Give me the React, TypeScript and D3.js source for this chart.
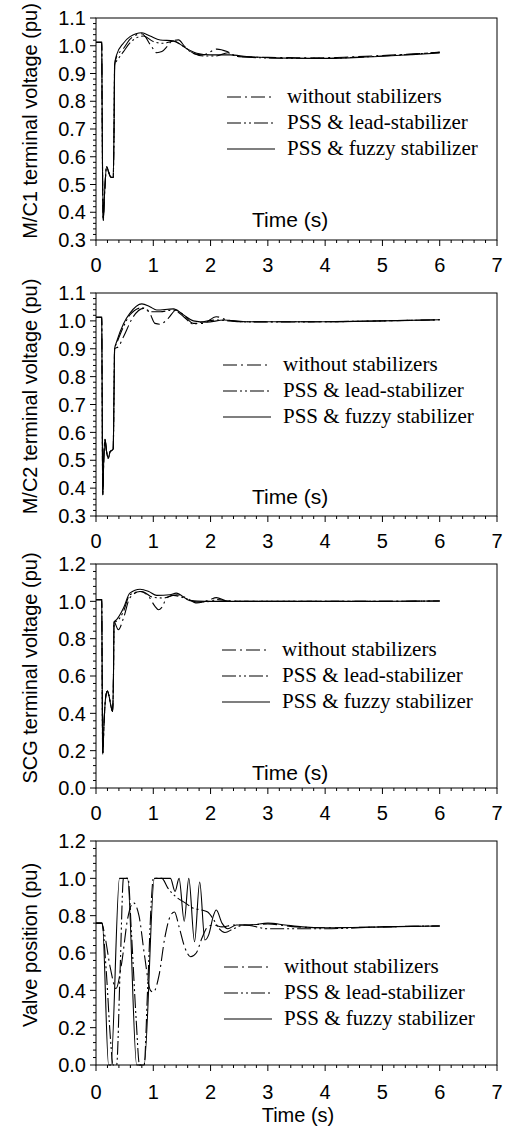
import React from 'react';
import * as d3 from 'd3';

type Pt = [number, number];

const xTickValues = [0, 1, 2, 3, 4, 5, 6, 7];
const voltTicks = [0.3, 0.4, 0.5, 0.6, 0.7, 0.8, 0.9, 1.0, 1.1];
const unitTicks = [0.0, 0.2, 0.4, 0.6, 0.8, 1.0, 1.2];
const legendLabels = ['without stabilizers', 'PSS & lead-stabilizer', 'PSS & fuzzy stabilizer'];

// ---- Panel 1: M/C1 terminal voltage ----
const mc1Common: Pt[] = [
  [0, 1.012], [0.1, 1.012], [0.106, 0.8], [0.125, 0.37], [0.15, 0.47], [0.185, 0.565],
  [0.22, 0.545], [0.255, 0.527], [0.3, 0.525], [0.315, 0.7], [0.325, 0.93],
];
const mc1Without: Pt[] = [
  [0.36, 0.961], [0.48, 0.99], [0.6, 1.025], [0.8, 1.043], [0.97, 0.997], [1.06, 0.975],
  [1.15, 0.979], [1.24, 0.997], [1.32, 1.016], [1.44, 1.021], [1.55, 0.997], [1.69, 0.973],
  [1.87, 0.967], [2.11, 0.988], [2.29, 0.979], [2.46, 0.961], [3.0, 0.958], [3.5, 0.957],
  [4.0, 0.957], [4.5, 0.96], [5.0, 0.965], [5.5, 0.97], [6.0, 0.976],
];
const mc1Lead: Pt[] = [
  [0.39, 0.953], [0.48, 0.979], [0.6, 1.012], [0.83, 1.035], [1.0, 1.015], [1.18, 1.009],
  [1.35, 1.016], [1.53, 0.997], [1.7, 0.973], [1.87, 0.963], [2.1, 0.963], [2.3, 0.975],
  [2.45, 0.962], [3.0, 0.956], [3.5, 0.955], [4.0, 0.955], [4.5, 0.958], [5.0, 0.963],
  [5.5, 0.969], [6.0, 0.977],
];
const mc1Fuzzy: Pt[] = [
  [0.36, 0.967], [0.478, 1.009], [0.594, 1.033], [0.8, 1.047], [0.944, 1.035], [1.12, 1.021],
  [1.35, 1.018], [1.58, 0.99], [1.76, 0.973], [1.99, 0.967], [2.34, 0.967], [2.63, 0.961],
  [3.0, 0.957], [3.5, 0.955], [4.0, 0.954], [4.5, 0.957], [5.0, 0.962], [5.5, 0.968], [6.0, 0.974],
];

// ---- Panel 2: M/C2 terminal voltage ----
const mc2Common: Pt[] = [
  [0, 1.013], [0.1, 1.013], [0.106, 0.8], [0.118, 0.375], [0.135, 0.5], [0.157, 0.575],
  [0.185, 0.53], [0.215, 0.507], [0.245, 0.53], [0.3, 0.54], [0.315, 0.75], [0.325, 0.9],
];
const mc2Without: Pt[] = [
  [0.39, 0.907], [0.48, 0.943], [0.65, 1.015], [0.83, 1.045], [0.94, 1.027], [1.03, 0.991],
  [1.12, 0.988], [1.26, 1.009], [1.4, 1.039], [1.53, 1.021], [1.7, 0.991], [1.87, 0.991],
  [2.1, 1.015], [2.29, 1.003], [2.6, 0.997], [3.0, 0.997], [4.0, 0.997], [5.0, 1.0], [6.0, 1.004],
];
const mc2Lead: Pt[] = [
  [0.36, 0.919], [0.48, 0.979], [0.59, 1.021], [0.8, 1.047], [0.97, 1.033], [1.12, 1.033],
  [1.35, 1.039], [1.53, 1.015], [1.7, 0.988], [1.87, 0.997], [2.1, 1.003], [2.5, 0.997],
  [3.0, 0.996], [4.0, 0.997], [5.0, 1.0], [6.0, 1.004],
];
const mc2Fuzzy: Pt[] = [
  [0.36, 0.925], [0.48, 0.99], [0.59, 1.027], [0.8, 1.061], [0.94, 1.051], [1.06, 1.039],
  [1.35, 1.043], [1.53, 1.021], [1.7, 1.0], [1.93, 0.995], [2.23, 1.003], [2.6, 0.997],
  [3.0, 0.997], [4.0, 0.997], [5.0, 1.0], [6.0, 1.004],
];

// ---- Panel 3: SCG terminal voltage ----
const scgCommon: Pt[] = [
  [0, 1.009], [0.1, 1.009], [0.106, 0.7], [0.117, 0.18], [0.14, 0.35], [0.17, 0.49],
  [0.198, 0.52], [0.23, 0.49], [0.26, 0.44], [0.29, 0.41], [0.305, 0.6], [0.315, 0.889],
];
const scgWithout: Pt[] = [
  [0.39, 0.848], [0.48, 0.91], [0.59, 1.018], [0.77, 1.053], [0.92, 1.026], [1.03, 0.973],
  [1.09, 0.955], [1.15, 0.968], [1.24, 1.021], [1.41, 1.035], [1.58, 1.018], [1.76, 0.991],
  [1.99, 1.009], [2.1, 1.02], [2.29, 1.003], [2.6, 1.0], [3.0, 1.0], [4.0, 1.0], [5.0, 1.0], [6.0, 1.002],
];
const scgLead: Pt[] = [
  [0.36, 0.893], [0.48, 0.946], [0.59, 1.035], [0.8, 1.053], [1.0, 1.021], [1.18, 1.018],
  [1.35, 1.032], [1.58, 1.014], [1.76, 0.996], [1.99, 1.0], [2.1, 1.009], [2.4, 1.0],
  [3.0, 1.0], [4.0, 1.0], [5.0, 1.0], [6.0, 1.002],
];
const scgFuzzy: Pt[] = [
  [0.36, 0.902], [0.48, 0.964], [0.59, 1.044], [0.77, 1.065], [0.92, 1.053], [1.06, 1.032],
  [1.29, 1.035], [1.4, 1.044], [1.64, 1.004], [1.9, 1.0], [2.3, 1.0], [3.0, 1.0],
  [4.0, 1.0], [5.0, 1.0], [6.0, 1.002],
];

// ---- Panel 4: Valve position ----
const valveWithout: Pt[] = [
  [0, 0.76], [0.1, 0.76], [0.15, 0.7], [0.25, 0.52], [0.35, 0.41], [0.45, 0.55], [0.55, 0.78],
  [0.65, 0.87], [0.75, 0.8], [0.85, 0.58], [0.95, 0.4], [1.0, 0.39], [1.1, 0.48], [1.2, 0.68],
  [1.3, 0.8], [1.37, 0.82], [1.45, 0.74], [1.55, 0.63], [1.65, 0.58], [1.75, 0.6], [1.85, 0.68],
  [1.95, 0.74], [2.05, 0.75], [2.2, 0.74], [2.4, 0.75], [2.6, 0.75], [3.0, 0.755], [3.5, 0.74],
  [4.0, 0.735], [5.0, 0.74], [6.0, 0.745],
];
const valveLead: Pt[] = [
  [0, 0.76], [0.1, 0.76], [0.18, 0.5], [0.25, 0.15], [0.3, 0.0], [0.36, 0.0], [0.42, 0.5],
  [0.48, 1.0], [0.56, 1.0], [0.62, 0.7], [0.7, 0.25], [0.76, 0.0], [0.84, 0.0], [0.9, 0.4],
  [0.97, 0.9], [1.0, 1.0], [1.15, 1.0], [1.25, 0.95], [1.4, 0.9], [1.55, 0.87], [1.7, 0.84],
  [1.85, 0.83], [1.95, 0.82], [2.05, 0.78], [2.15, 0.73], [2.25, 0.71], [2.4, 0.73], [2.6, 0.75],
  [3.0, 0.73], [3.5, 0.73], [4.0, 0.73], [5.0, 0.74], [6.0, 0.745],
];
const valveFuzzy: Pt[] = [
  [0, 0.76], [0.11, 0.76], [0.22, 0.0], [0.26, 0.0], [0.41, 1.0], [0.55, 1.0], [0.71, 0.0],
  [0.84, 0.0], [1.02, 1.0], [1.3, 1.0], [1.38, 0.93], [1.45, 1.0], [1.54, 0.77], [1.62, 1.0],
  [1.72, 0.66], [1.81, 0.98], [1.9, 0.67], [1.97, 0.7], [2.05, 0.8], [2.1, 0.83], [2.2, 0.76],
  [2.3, 0.73], [2.45, 0.75], [2.7, 0.75], [3.0, 0.76], [3.3, 0.75], [3.6, 0.74], [4.0, 0.735],
  [5.0, 0.74], [6.0, 0.745],
];

const dashes = ['14,4,2,4', '14,3,2,3,2,3', ''];

interface PanelCfg {
  top: number; bottom: number; yMin: number; yMax: number; yTicks: number[];
  label: string; series: Pt[][]; legendX: number; legendY: number; timeInside: boolean;
  xLabelDy: number; timeY: number;
}

const panels: PanelCfg[] = [
  { top: 18, bottom: 240, yMin: 0.3, yMax: 1.1, yTicks: voltTicks, label: 'M/C1 terminal voltage (pu)',
    series: [mc1Common.concat(mc1Without), mc1Common.concat(mc1Lead), mc1Common.concat(mc1Fuzzy)],
    legendX: 227, legendY: 97, timeInside: true, xLabelDy: 32, timeY: 227 },
  { top: 293, bottom: 516, yMin: 0.3, yMax: 1.1, yTicks: voltTicks, label: 'M/C2 terminal voltage (pu)',
    series: [mc2Common.concat(mc2Without), mc2Common.concat(mc2Lead), mc2Common.concat(mc2Fuzzy)],
    legendX: 223, legendY: 365, timeInside: true, xLabelDy: 32, timeY: 504 },
  { top: 564, bottom: 788, yMin: 0, yMax: 1.2, yTicks: unitTicks, label: 'SCG terminal voltage (pu)',
    series: [scgCommon.concat(scgWithout), scgCommon.concat(scgLead), scgCommon.concat(scgFuzzy)],
    legendX: 222, legendY: 650, timeInside: true, xLabelDy: 32, timeY: 780 },
  { top: 841, bottom: 1065, yMin: 0, yMax: 1.2, yTicks: unitTicks, label: 'Valve position (pu)',
    series: [valveWithout, valveLead, valveFuzzy],
    legendX: 224, legendY: 967, timeInside: false, xLabelDy: 34, timeY: 1122 },
];

const LEFT = 96;
const RIGHT = 497;
const SANS = '"Liberation Sans", Arial, sans-serif';
const SERIF = '"Liberation Serif", "Times New Roman", serif';

function Panel({ cfg }: { cfg: PanelCfg }) {
  const x = d3.scaleLinear().domain([0, 7]).range([LEFT, RIGHT]);
  const y = d3.scaleLinear().domain([cfg.yMin, cfg.yMax]).range([cfg.bottom, cfg.top]);
  const step = cfg.yTicks[1] - cfg.yTicks[0];
  const yMinor: number[] = [];
  for (let i = 0; i < cfg.yTicks.length - 1; i++) {
    for (let k = 1; k < 5; k++) yMinor.push(cfg.yTicks[i] + (step * k) / 5);
  }
  const xMinor: number[] = [];
  for (let i = 0; i < 7; i++) for (let k = 1; k < 5; k++) xMinor.push(i + k * 0.2);
  const line = d3.line<Pt>().x(d => x(d[0])).y(d => y(d[1])).curve(d3.curveMonotoneX);
  const midY = (cfg.top + cfg.bottom) / 2 - 8;
  return (
    <g>
      <rect x={LEFT} y={cfg.top} width={RIGHT - LEFT} height={cfg.bottom - cfg.top} fill="none" stroke="#000" strokeWidth={1} />
      {cfg.yTicks.map(v => (
        <g key={'yt' + v}>
          <line x1={LEFT - 6} x2={LEFT} y1={y(v)} y2={y(v)} stroke="#000" />
          <text x={86} y={y(v)} dy="0.36em" textAnchor="end" fontFamily={SANS} fontSize={20}>{v.toFixed(1)}</text>
        </g>
      ))}
      {yMinor.map((v, i) => (
        <line key={'ym' + i} x1={LEFT - 3} x2={LEFT} y1={y(v)} y2={y(v)} stroke="#000" />
      ))}
      {xTickValues.map(v => (
        <g key={'xt' + v}>
          <line x1={x(v)} x2={x(v)} y1={cfg.bottom} y2={cfg.bottom + 6} stroke="#000" />
          <text x={x(v)} y={cfg.bottom + cfg.xLabelDy} textAnchor="middle" fontFamily={SANS} fontSize={20}>{v}</text>
        </g>
      ))}
      {xMinor.map((v, i) => (
        <line key={'xm' + i} x1={x(v)} x2={x(v)} y1={cfg.bottom} y2={cfg.bottom + 3} stroke="#000" />
      ))}
      {cfg.series.map((s, i) => (
        <path key={'s' + i} d={line(s) || ''} fill="none" stroke="#000" strokeWidth={1.1} strokeDasharray={dashes[i] || undefined} />
      ))}
      {legendLabels.map((lab, i) => {
        const ly = cfg.legendY + i * 26;
        return (
          <g key={'lg' + i}>
            <line x1={cfg.legendX} x2={cfg.legendX + 48} y1={ly} y2={ly} stroke="#000" strokeWidth={1.1} strokeDasharray={dashes[i] || undefined} />
            <text x={cfg.legendX + 60} y={ly + 6} fontFamily={SERIF} fontSize={21}>{lab}</text>
          </g>
        );
      })}
      <text transform={`translate(37,${midY}) rotate(-90)`} textAnchor="middle" fontFamily={SANS} fontSize={20}>{cfg.label}</text>
      {cfg.timeInside ? (
        <text x={252} y={cfg.timeY} fontFamily={SANS} fontSize={21}>Time (s)</text>
      ) : (
        <text x={298} y={cfg.timeY} textAnchor="middle" fontFamily={SANS} fontSize={20}>Time (s)</text>
      )}
    </g>
  );
}

export default function App() {
  return (
    <svg width={505} height={1134} style={{ position: 'absolute', left: 0, top: 0, background: '#fff' }}>
      <rect width={505} height={1134} fill="#fff" />
      {panels.map((p, i) => <Panel key={i} cfg={p} />)}
    </svg>
  );
}
